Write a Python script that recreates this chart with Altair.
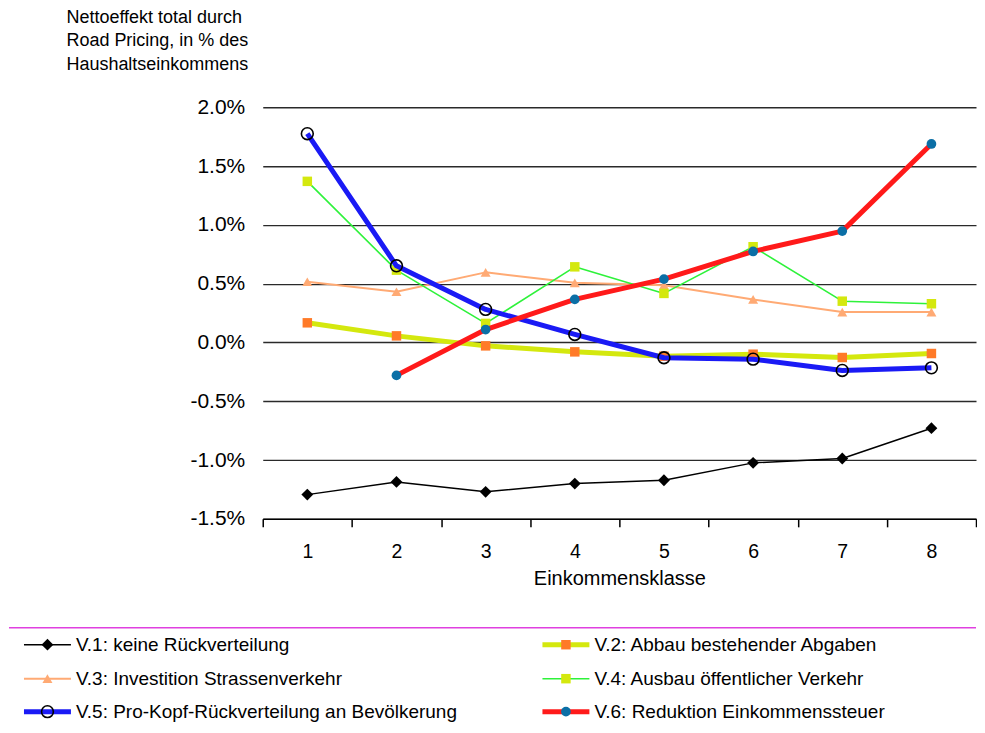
import altair as alt
import pandas as pd

# ---------------- data ----------------
classes = [1, 2, 3, 4, 5, 6, 7, 8]
series_names = [
    "V.1: keine Rückverteilung",
    "V.2: Abbau bestehender Abgaben",
    "V.3: Investition Strassenverkehr",
    "V.4: Ausbau öffentlicher Verkehr",
    "V.5: Pro-Kopf-Rückverteilung an Bevölkerung",
    "V.6: Reduktion Einkommenssteuer",
]
v1 = [-1.294, -1.186, -1.27, -1.20, -1.172, -1.024, -0.987, -0.729]
v2 = [0.167, 0.056, -0.029, -0.08, -0.117, -0.10, -0.128, -0.094]
v3 = [0.516, 0.431, 0.596, 0.507, 0.487, 0.366, 0.258, 0.258]
v4 = [1.370, 0.615, 0.162, 0.643, 0.417, 0.814, 0.351, 0.329]
v5 = [1.775, 0.652, 0.281, 0.068, -0.13, -0.142, -0.238, -0.216]
v6 = [None, -0.28, 0.11, 0.366, 0.539, 0.774, 0.947, 1.688]
y_ticks = [-1.5, -1.0, -0.5, 0.0, 0.5, 1.0, 1.5, 2.0]
x_ticks = [0.5, 1, 1.5, 2, 2.5, 3, 3.5, 4, 4.5, 5, 5.5, 6, 6.5, 7, 7.5, 8, 8.5]
y_title = ["Nettoeffekt total durch", "Road Pricing, in % des", "Haushaltseinkommens"]
x_title = "Einkommensklasse"
all_values = [v1, v2, v3, v4, v5, v6]

# ---------------- styles ----------------
FONT = "Liberation Sans, Arial, sans-serif"
styles = [
    dict(line="#000000", lw=1.5, shape="diamond", filled=True, mcolor="#000000", size=140),
    dict(line="#D4E80E", lw=5, shape="square", filled=True, mcolor="#FF7A28", size=90),
    dict(line="#FFAA74", lw=2, shape="triangle-up", filled=True, mcolor="#FFAA74", size=100),
    dict(line="#2EF23A", lw=1.6, shape="square", filled=True, mcolor="#D4E80E", size=90),
    dict(line="#1A1AF5", lw=5, shape="circle", filled=False, mcolor="#000000", size=140),
    dict(line="#FF1A1A", lw=5, shape="circle", filled=True, mcolor="#0B6FA6", size=95),
]

W, H = 714, 412
PLOT_LEFT = 262  # page x of plot area (used for layout offsets only)

x_axis = alt.Axis(
    values=x_ticks,
    labelExpr="datum.value % 1 == 0 ? format(datum.value, 'd') : ''",
    tickOpacity={"condition": {"test": "datum.value % 1 === 0", "value": 0}, "value": 1},
    labelOverlap=False,
    labelFlush=False,
    grid=False,
    domain=True,
    domainColor="#000000",
    domainWidth=1.5,
    tickColor="#000000",
    tickWidth=1.5,
    tickSize=8,
    labelPadding=16,
    labelFontSize=19.5,
    labelFont=FONT,
    labelColor="#000000",
    title=x_title,
    titleFont=FONT,
    titleFontSize=20,
    titleFontWeight="normal",
    titleColor="#000000",
    titlePadding=7,
)

y_axis = alt.Axis(
    values=y_ticks,
    labelExpr="(datum.value < 0 ? '-' : '') + format(abs(datum.value), '.1f') + '%'",
    grid=True,
    gridColor="#2a2a2a",
    gridWidth=1.4,
    domain=False,
    ticks=False,
    labelPadding=18,
    labelFontSize=21,
    labelFont=FONT,
    labelColor="#000000",
    title=y_title,
    titleAngle=0,
    titleAlign="left",
    titleBaseline="top",
    titleX=65 - PLOT_LEFT,
    titleY=-99,
    titleFont=FONT,
    titleFontSize=18,
    titleFontWeight="normal",
    titleColor="#000000",
    titleLineHeight=23.5,
)

x_enc = alt.X("cls:Q", scale=alt.Scale(domain=[0.5, 8.5], nice=False, zero=False), axis=x_axis)
y_enc = alt.Y("val:Q", scale=alt.Scale(domain=[-1.5, 2.0], nice=False, zero=False), axis=y_axis)

layers = []
for name, vals, st in zip(series_names, all_values, styles):
    df = pd.DataFrame({"cls": classes, "val": vals, "series": name}).dropna()
    base = alt.Chart(df).encode(x=x_enc, y=y_enc)
    layers.append(base.mark_line(color=st["line"], strokeWidth=st["lw"], strokeJoin="round"))
    if st["filled"]:
        pt = base.mark_point(shape=st["shape"], filled=True, color=st["mcolor"], size=st["size"], opacity=1, strokeWidth=0)
    else:
        pt = base.mark_point(shape=st["shape"], filled=False, color=st["mcolor"], size=st["size"], opacity=1, strokeWidth=1.6)
    layers.append(pt)

main = alt.layer(*layers).properties(width=W, height=H)

# ---------------- custom legend panel ----------------
col_start = [23 - PLOT_LEFT, 542 - PLOT_LEFT]   # left end of legend line segments
row_y = [17, 51, 84]                            # row centres below the separator line
seg_len = 47
text_gap = 52

lx = alt.X("x:Q", scale=None, axis=None)
ly = alt.Y("y:Q", scale=None, axis=None)

leg_layers = []
sep = pd.DataFrame({"x": [8 - PLOT_LEFT], "x2": [W], "y": [0]})
leg_layers.append(
    alt.Chart(sep).mark_rule(color="#E040E0", strokeWidth=1.3).encode(x=lx, x2="x2:Q", y=ly)
)
for i, (name, st) in enumerate(zip(series_names, styles)):
    c, r = i % 2, i // 2
    x0 = col_start[c]
    d = pd.DataFrame({"x": [x0], "x2": [x0 + seg_len], "xm": [x0 + seg_len / 2],
                      "xt": [x0 + text_gap], "y": [row_y[r]], "label": [name]})
    leg_layers.append(alt.Chart(d).mark_rule(color=st["line"], strokeWidth=st["lw"]).encode(x=lx, x2="x2:Q", y=ly))
    if st["filled"]:
        pm = alt.Chart(d).mark_point(shape=st["shape"], filled=True, color=st["mcolor"], size=st["size"], opacity=1, strokeWidth=0)
    else:
        pm = alt.Chart(d).mark_point(shape=st["shape"], filled=False, color=st["mcolor"], size=st["size"], opacity=1, strokeWidth=1.6)
    leg_layers.append(pm.encode(x=alt.X("xm:Q", scale=None, axis=None), y=ly))
    leg_layers.append(
        alt.Chart(d).mark_text(align="left", baseline="middle", font=FONT, fontSize=19, color="#000000")
        .encode(x=alt.X("xt:Q", scale=None, axis=None), y=ly, text="label:N")
    )

legend = alt.layer(*leg_layers).properties(width=W, height=90)

chart = (
    alt.vconcat(main, legend, spacing=109)
    .properties(bounds="flush", padding={"left": 0, "top": 0, "right": 0, "bottom": 0})
    .configure_view(stroke=None)
)

chart.save("out.html", embed_options={"renderer": "svg", "actions": False})
